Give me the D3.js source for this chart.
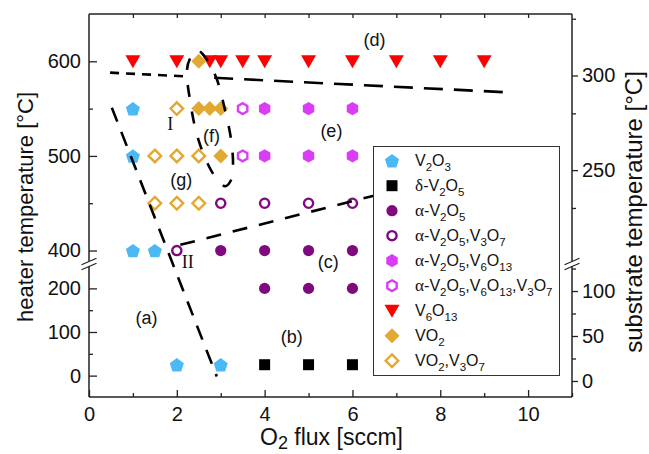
<!DOCTYPE html>
<html>
<head>
<meta charset="utf-8">
<script src="https://cdn.jsdelivr.net/npm/d3@7"></script>
<style>
body { margin: 0; background: #fff; }
svg { font-family: "Liberation Sans", Arial, sans-serif; }
.axis text { font-size: 20px; fill: #111; }
.axis line { stroke: #222; stroke-width: 1.3; }
</style>
</head>
<body>
<script>

//tick values for the axes
var fluxTicks = [0, 2, 4, 6, 8, 10];
var fluxMinor = [1, 3, 5, 7, 9, 11];
var heaterUpperTicks = [400, 500, 600];
var heaterUpperMinor = [450, 550];
var heaterLowerTicks = [0, 100, 200];
var heaterLowerMinor = [50, 150];
var substrateUpperTicks = [250, 300];
var substrateUpperMinor = [230, 280, 330];
var substrateLowerTicks = [0, 50, 100];
var substrateLowerMinor = [25, 75, 125];

//phase data: [O2 flux, heater temperature]
var v2o3 = [[1, 550], [1, 500], [1, 400], [1.5, 400], [2, 25], [3, 25]];
var deltaV2O5 = [[4, 25], [5, 25], [6, 25]];
var alphaV2O5 = [[3, 400], [4, 400], [5, 400], [6, 400], [4, 200], [5, 200], [6, 200]];
var alphaV2O5V3O7 = [[2, 400], [3, 450], [4, 450], [5, 450], [6, 450]];
var alphaV2O5V6O13 = [[4, 550], [5, 550], [6, 550], [4, 500], [5, 500], [6, 500]];
var alphaV2O5V6O13V3O7 = [[3.5, 550], [3.5, 500]];
var v6o13 = [[1, 600], [2, 600], [2.75, 600], [3, 600], [3.5, 600], [4, 600], [5, 600], [6, 600], [7, 600], [8, 600], [9, 600]];
var vo2 = [[2.5, 600], [2.5, 550], [2.75, 550], [3, 550], [3, 500]];
var vo2V3O7 = [[2, 550], [1.5, 500], [2, 500], [2.5, 500], [1.5, 450], [2, 450], [2.5, 450]];

//phase boundaries (dashed lines)
var boundaryDLeft = [[0.48, 588], [2.25, 584]];
var boundaryDRight = [[2.85, 582.6], [9.62, 567]];
var boundaryA = [[0.52, 551], [2.91, -2]];
var boundaryII = [[2.08, 406], [7, 464]];
var boundaryF = [[2.46, 612], [2.30, 603], [2.23, 590], [2.30, 559], [2.46, 522], [2.69, 493],
    [2.89, 477], [3.10, 468], [3.23, 474], [3.28, 490], [3.23, 519], [3.10, 548],
    [2.92, 580], [2.76, 596], [2.60, 607]];

//region labels
var regionLabels = [
    {text: "(d)", x: 6.5, t: 616},
    {text: "(e)", x: 5.52, t: 520},
    {text: "(f)", x: 2.79, t: 515},
    {text: "(g)", x: 2.1, t: 468},
    {text: "(c)", x: 5.45, t: 246},
    {text: "(a)", x: 1.31, t: 119},
    {text: "(b)", x: 4.62, t: 75}
];
var romanLabels = [
    {text: "I", x: 1.85, t: 527},
    {text: "II", x: 2.25, t: 246}
];

window.onload = drawChart;

function drawChart(){

    var width = 649, height = 454;
    var left = 89, right = 572, top = 14, bottom = 397;
    var breakUp = 261, breakLo = 266;

    var svg = d3.select("body")
        .append("svg")
        .attr("width", width)
        .attr("height", height);

    //scales
    var x = d3.scaleLinear().domain([0, 11]).range([left, right]);
    var yUp = d3.scaleLinear().domain([390, 650]).range([260, top]);
    var yLo = d3.scaleLinear().domain([-49, 249]).range([bottom, 267]);
    var subUp = d3.scaleLinear().domain([202.5, 332.5]).range([260, top]);
    var subLo = d3.scaleLinear().domain([-17.8, 126.7]).range([bottom, 267]);

    //pick the segment of the broken y axis
    function y(t){
        return t >= 390 ? yUp(t) : yLo(t);
    }

    //marker shapes
    function shape(kind){
        var pts = [], i, r;
        if (kind == "pentagon"){
            r = 7.4;
            for (i = 0; i < 5; i++){
                var a = -Math.PI / 2 + i * 2 * Math.PI / 5;
                pts.push([r * Math.cos(a), r * Math.sin(a) + 0.8]);
            }
        } else if (kind == "hexagon"){
            r = 6.6;
            for (i = 0; i < 6; i++){
                var b = -Math.PI / 2 + i * Math.PI / 3;
                pts.push([r * Math.cos(b), r * Math.sin(b)]);
            }
        } else if (kind == "triangle"){
            pts = [[-7.5, -6], [7.5, -6], [0, 7]];
        } else if (kind == "diamond"){
            pts = [[0, -7.5], [7.5, 0], [0, 7.5], [-7.5, 0]];
        } else if (kind == "square"){
            pts = [[-5.5, -5.5], [5.5, -5.5], [5.5, 5.5], [-5.5, 5.5]];
        } else if (kind == "circle"){
            return "M5.6,0A5.6,5.6 0 1,1 -5.6,0A5.6,5.6 0 1,1 5.6,0Z";
        } else if (kind == "ocircle"){
            return "M4.6,0A4.6,4.6 0 1,1 -4.6,0A4.6,4.6 0 1,1 4.6,0Z";
        } else if (kind == "ohexagon"){
            r = 5.4;
            for (i = 0; i < 6; i++){
                var c = -Math.PI / 2 + i * Math.PI / 3;
                pts.push([r * Math.cos(c), r * Math.sin(c)]);
            }
        } else if (kind == "odiamond"){
            pts = [[0, -6.3], [6.3, 0], [0, 6.3], [-6.3, 0]];
        }
        return "M" + pts.map(function(p){ return p[0].toFixed(2) + "," + p[1].toFixed(2); }).join("L") + "Z";
    }

    var phases = [
        {label: "V_2O_3", data: v2o3, kind: "pentagon", color: "#4cb9f5", open: false},
        {label: "δ-V_2O_5", data: deltaV2O5, kind: "square", color: "#000000", open: false},
        {label: "α-V_2O_5", data: alphaV2O5, kind: "circle", color: "#7f0a80", open: false},
        {label: "α-V_2O_5,V_3O_7", data: alphaV2O5V3O7, kind: "ocircle", color: "#7f0a80", open: true},
        {label: "α-V_2O_5,V_6O_13", data: alphaV2O5V6O13, kind: "hexagon", color: "#d93df5", open: false},
        {label: "α-V_2O_5,V_6O_13,V_3O_7", data: alphaV2O5V6O13V3O7, kind: "ohexagon", color: "#d93df5", open: true},
        {label: "V_6O_13", data: v6o13, kind: "triangle", color: "#ff0000", open: false},
        {label: "VO_2", data: vo2, kind: "diamond", color: "#e2a932", open: false},
        {label: "VO_2,V_3O_7", data: vo2V3O7, kind: "odiamond", color: "#e2a932", open: true}
    ];

    function styleMarker(sel, p){
        sel.attr("d", shape(p.kind))
            .attr("fill", p.open ? "#fff" : p.color)
            .attr("stroke", p.open ? p.color : "none")
            .attr("stroke-width", p.open ? 2.4 : 0);
    }

    //axes
    svg.append("g")
        .attr("class", "axis")
        .attr("transform", "translate(0," + bottom + ")")
        .call(d3.axisBottom(x).tickValues(fluxTicks).tickSize(-7).tickPadding(10));
    svg.append("g")
        .attr("class", "axis")
        .attr("transform", "translate(0," + bottom + ")")
        .call(d3.axisBottom(x).tickValues(fluxMinor).tickSize(-4).tickFormat(""));
    svg.append("g")
        .attr("class", "axis")
        .attr("transform", "translate(0," + top + ")")
        .call(d3.axisTop(x).tickValues(d3.range(1, 11)).tickSize(-4).tickFormat(""));

    svg.append("g")
        .attr("class", "axis")
        .attr("transform", "translate(" + left + ",0)")
        .call(d3.axisLeft(yUp).tickValues(heaterUpperTicks).tickSize(-8).tickPadding(8));
    svg.append("g")
        .attr("class", "axis")
        .attr("transform", "translate(" + left + ",0)")
        .call(d3.axisLeft(yUp).tickValues(heaterUpperMinor).tickSize(-4).tickFormat(""));
    svg.append("g")
        .attr("class", "axis")
        .attr("transform", "translate(" + left + ",0)")
        .call(d3.axisLeft(yLo).tickValues(heaterLowerTicks).tickSize(-8).tickPadding(8));
    svg.append("g")
        .attr("class", "axis")
        .attr("transform", "translate(" + left + ",0)")
        .call(d3.axisLeft(yLo).tickValues(heaterLowerMinor).tickSize(-4).tickFormat(""));

    svg.append("g")
        .attr("class", "axis")
        .attr("transform", "translate(" + right + ",0)")
        .call(d3.axisRight(subUp).tickValues(substrateUpperTicks).tickSize(6).tickPadding(4));
    svg.append("g")
        .attr("class", "axis")
        .attr("transform", "translate(" + right + ",0)")
        .call(d3.axisRight(subUp).tickValues(substrateUpperMinor).tickSize(4).tickFormat(""));
    svg.append("g")
        .attr("class", "axis")
        .attr("transform", "translate(" + right + ",0)")
        .call(d3.axisRight(subLo).tickValues(substrateLowerTicks).tickSize(6).tickPadding(4));
    svg.append("g")
        .attr("class", "axis")
        .attr("transform", "translate(" + right + ",0)")
        .call(d3.axisRight(subLo).tickValues(substrateLowerMinor.filter(function(d){ return subLo(d) > 267; })).tickSize(4).tickFormat(""));

    svg.selectAll(".axis .domain").remove();

    //frame with the axis breaks
    var frame = svg.append("g")
        .attr("stroke", "#222")
        .attr("stroke-width", 1.5)
        .attr("fill", "none");
    frame.append("path").attr("d", "M" + left + "," + top + "H" + right);
    frame.append("path").attr("d", "M" + left + "," + bottom + "H" + right);
    [left, right].forEach(function(ax){
        frame.append("path").attr("d", "M" + ax + "," + top + "V" + breakUp);
        frame.append("path").attr("d", "M" + ax + "," + breakLo + "V" + bottom);
        [breakUp + 0.5, breakLo + 0.5].forEach(function(by){
            frame.append("path")
                .attr("stroke-width", 1.2)
                .attr("d", "M" + (ax - 7.5) + "," + (by + 3.3) + "L" + (ax + 7.5) + "," + (by - 3.3));
        });
    });

    //markers
    phases.forEach(function(p){
        svg.append("g").selectAll("path")
            .data(p.data)
            .enter()
            .append("path")
            .attr("transform", function(d){ return "translate(" + x(d[0]) + "," + y(d[1]) + ")"; })
            .call(styleMarker, p);
    });

    //dashed phase boundaries
    var straight = d3.line()
        .x(function(d){ return x(d[0]); })
        .y(function(d){ return y(d[1]); });
    var boundaries = [
        {data: boundaryDLeft, dash: "9,7"},
        {data: boundaryDRight, dash: "19,11"},
        {data: boundaryA, dash: "15,11"},
        {data: boundaryII, dash: "15,12"}
    ];
    boundaries.forEach(function(b){
        svg.append("path")
            .datum(b.data)
            .attr("d", straight)
            .attr("fill", "none")
            .attr("stroke", "#000")
            .attr("stroke-width", 2.6)
            .attr("stroke-dasharray", b.dash);
    });
    svg.append("path")
        .datum(boundaryF)
        .attr("d", d3.line()
            .x(function(d){ return x(d[0]); })
            .y(function(d){ return yUp(d[1]); })
            .curve(d3.curveCatmullRomClosed.alpha(0.5)))
        .attr("fill", "none")
        .attr("stroke", "#000")
        .attr("stroke-width", 2.6)
        .attr("stroke-dasharray", "12,15");

    //text with subscripts, "_12" marks a subscript
    function richText(sel, str, size, subSize, shift){
        var parts = str.split(/(_\d+)/).filter(function(s){ return s.length; });
        var low = false;
        var drop = shift || size * 0.27;
        parts.forEach(function(s){
            if (s[0] == "_"){
                sel.append("tspan")
                    .attr("font-size", subSize)
                    .attr("dy", low ? 0 : drop)
                    .text(s.slice(1));
                low = true;
            } else {
                var greek = /^[αδ]/.test(s);
                if (greek){
                    sel.append("tspan")
                        .attr("font-family", "'Liberation Serif', 'Times New Roman', serif")
                        .attr("font-size", size * 1.08)
                        .attr("dy", low ? -drop : 0)
                        .text(s[0]);
                    low = false;
                    s = s.slice(1);
                }
                sel.append("tspan")
                    .attr("dy", low ? -drop : 0)
                    .text(s);
                low = false;
            }
        });
    }

    //legend
    var legend = svg.append("g");
    legend.append("rect")
        .attr("x", 373.5)
        .attr("y", 146.5)
        .attr("width", 186)
        .attr("height", 229)
        .attr("fill", "#fff")
        .attr("stroke", "#333")
        .attr("stroke-width", 1);
    var rowY = d3.scaleLinear().domain([0, 8]).range([160.7, 360.7]);
    phases.forEach(function(p, i){
        legend.append("path")
            .attr("transform", "translate(392," + rowY(i) + ")")
            .call(styleMarker, p);
        var t = legend.append("text")
            .attr("x", 415)
            .attr("y", rowY(i) + 5.5)
            .attr("font-size", 16)
            .attr("fill", "#111");
        richText(t, p.label, 16, 11.5);
    });

    //region labels
    svg.append("g").selectAll("text")
        .data(regionLabels)
        .enter()
        .append("text")
        .attr("x", function(d){ return x(d.x); })
        .attr("y", function(d){ return y(d.t); })
        .attr("text-anchor", "middle")
        .attr("font-size", 18)
        .attr("fill", "#111")
        .text(function(d){ return d.text; });
    svg.append("g").selectAll("text")
        .data(romanLabels)
        .enter()
        .append("text")
        .attr("x", function(d){ return x(d.x); })
        .attr("y", function(d){ return y(d.t); })
        .attr("text-anchor", "middle")
        .attr("font-family", "'Liberation Serif', 'Times New Roman', serif")
        .attr("font-size", 18)
        .attr("fill", "#111")
        .text(function(d){ return d.text; });

    //axis titles
    var xTitle = svg.append("text")
        .attr("x", (left + right) / 2 + 1)
        .attr("y", 445)
        .attr("text-anchor", "middle")
        .attr("font-size", 23)
        .attr("fill", "#111");
    richText(xTitle, "O_2 flux [sccm]", 23, 18, 4);

    svg.append("text")
        .attr("transform", "translate(33,207) rotate(-90)")
        .attr("text-anchor", "middle")
        .attr("font-size", 22)
        .attr("fill", "#111")
        .text("heater temperature [°C]");

    svg.append("text")
        .attr("transform", "translate(642,212) rotate(-90)")
        .attr("text-anchor", "middle")
        .attr("font-size", 24)
        .attr("fill", "#111")
        .text("substrate temperature [°C]");
};

</script>
</body>
</html>
